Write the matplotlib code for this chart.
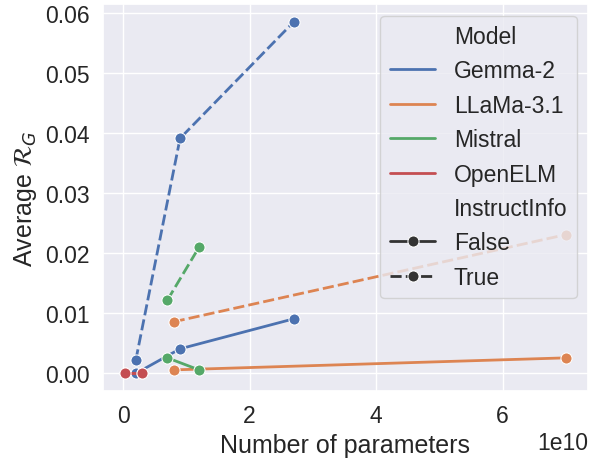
import matplotlib
matplotlib.use('Agg')
import matplotlib.pyplot as plt
import pandas as pd
import seaborn as sns

# values
models = ['Gemma-2', 'Gemma-2', 'Gemma-2', 'Gemma-2', 'Gemma-2', 'Gemma-2',
          'LLaMa-3.1', 'LLaMa-3.1', 'LLaMa-3.1', 'LLaMa-3.1',
          'Mistral', 'Mistral', 'Mistral', 'Mistral',
          'OpenELM', 'OpenELM', 'OpenELM', 'OpenELM']
instruct = [False, False, False, True, True, True,
            False, False, True, True,
            False, False, True, True,
            False, False, True, True]
n_params = [2.0e9, 9.0e9, 27.0e9, 2.0e9, 9.0e9, 27.0e9,
            8.0e9, 70.0e9, 8.0e9, 70.0e9,
            7.0e9, 12.0e9, 7.0e9, 12.0e9,
            0.27e9, 3.0e9, 0.27e9, 3.0e9]
avg_rg = [0.0000, 0.0041, 0.0091, 0.0022, 0.0391, 0.0585,
          0.0006, 0.0026, 0.0086, 0.0231,
          0.0026, 0.0006, 0.0122, 0.0210,
          0.0000, 0.0000, 0.0000, 0.0000]

df = pd.DataFrame({'Model': models, 'InstructInfo': instruct,
                   'Number of parameters': n_params, 'Average': avg_rg})

sns.set_theme(style='darkgrid', font_scale=1.5)
plt.rcParams['font.family'] = ['Liberation Sans', 'DejaVu Sans']
plt.rcParams['mathtext.fontset'] = 'dejavusans'

fig, ax = plt.subplots(figsize=(5.94, 4.64), dpi=100)

sns.lineplot(data=df, x='Number of parameters', y='Average', hue='Model',
             style='InstructInfo', markers=['o', 'o'], dashes=True,
             markersize=8, linewidth=2, ax=ax)

ax.set_xlabel('Number of parameters')
ax.set_ylabel(r'Average $\mathcal{R}_G$')
ax.set_yticks([0.0, 0.01, 0.02, 0.03, 0.04, 0.05, 0.06])
ax.legend(loc='upper right')

fig.subplots_adjust(left=0.173, right=0.99, top=0.989, bottom=0.155)
plt.savefig('out.png', dpi=100)
